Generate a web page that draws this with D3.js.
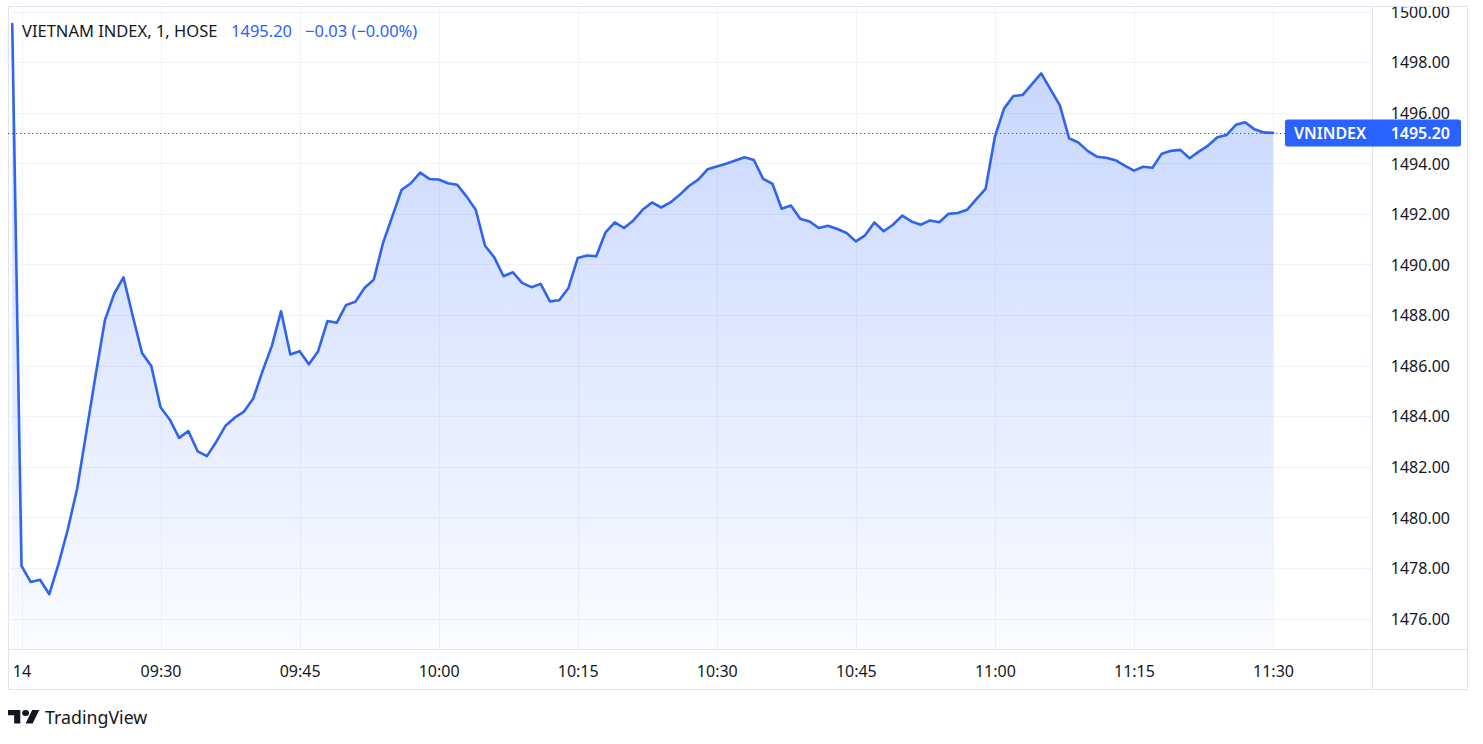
<!DOCTYPE html>
<html>
<head>
<meta charset="utf-8">
<script src="https://cdn.jsdelivr.net/npm/d3@7"></script>
<style>
  html, body { margin: 0; padding: 0; background: #ffffff; }
  svg { display: block; }
  text { font-family: "Noto Sans", "Open Sans", sans-serif; }
</style>
</head>
<body>
<svg id="chart" width="1483" height="744"></svg>
<script>
// ---------------- data ----------------
const sessionDate = "2025-08-14";
const times = [
  "09:14","09:15","09:16","09:17","09:18","09:19","09:20","09:21","09:22","09:23",
  "09:24","09:25","09:26","09:27","09:28","09:29","09:30","09:31","09:32","09:33",
  "09:34","09:35","09:36","09:37","09:38","09:39","09:40","09:41","09:42","09:43",
  "09:44","09:45","09:46","09:47","09:48","09:49","09:50","09:51","09:52","09:53",
  "09:54","09:55","09:56","09:57","09:58","09:59","10:00","10:01","10:02","10:03",
  "10:04","10:05","10:06","10:07","10:08","10:09","10:10","10:11","10:12","10:13",
  "10:14","10:15","10:16","10:17","10:18","10:19","10:20","10:21","10:22","10:23",
  "10:24","10:25","10:26","10:27","10:28","10:29","10:30","10:31","10:32","10:33",
  "10:34","10:35","10:36","10:37","10:38","10:39","10:40","10:41","10:42","10:43",
  "10:44","10:45","10:46","10:47","10:48","10:49","10:50","10:51","10:52","10:53",
  "10:54","10:55","10:56","10:57","10:58","10:59","11:00","11:01","11:02","11:03",
  "11:04","11:05","11:06","11:07","11:08","11:09","11:10","11:11","11:12","11:13",
  "11:14","11:15","11:16","11:17","11:18","11:19","11:20","11:21","11:22","11:23",
  "11:24","11:25","11:26","11:27","11:28","11:29","11:30"
];
const closeValues = [
  1499.5, 1478.08, 1477.44, 1477.53, 1476.96, 1478.16, 1479.53, 1481.13, 1483.38, 1485.63,
  1487.8, 1488.84, 1489.49, 1487.96, 1486.5, 1485.98, 1484.35, 1483.86, 1483.14, 1483.41,
  1482.61, 1482.42, 1482.98, 1483.62, 1483.94, 1484.18, 1484.7, 1485.78, 1486.77, 1488.15,
  1486.44, 1486.57, 1486.05, 1486.57, 1487.76, 1487.69, 1488.39, 1488.52, 1489.07, 1489.4,
  1490.85, 1491.9, 1492.95, 1493.21, 1493.63, 1493.38, 1493.36, 1493.21, 1493.15, 1492.69,
  1492.16, 1490.74, 1490.28, 1489.53, 1489.69, 1489.27, 1489.1, 1489.23, 1488.54, 1488.58,
  1489.07, 1490.25, 1490.35, 1490.32, 1491.27, 1491.66, 1491.44, 1491.74, 1492.16, 1492.45,
  1492.25, 1492.45, 1492.75, 1493.1, 1493.35, 1493.76, 1493.87, 1493.98, 1494.11, 1494.24,
  1494.13, 1493.38, 1493.19, 1492.2, 1492.33, 1491.81, 1491.7, 1491.44, 1491.53, 1491.4,
  1491.24, 1490.91, 1491.15, 1491.66, 1491.31, 1491.57, 1491.93, 1491.7, 1491.57, 1491.74,
  1491.67, 1492.0, 1492.03, 1492.16, 1492.58, 1492.99, 1495.05, 1496.17, 1496.66, 1496.7,
  1497.13, 1497.55, 1496.92, 1496.3, 1494.99, 1494.82, 1494.49, 1494.26, 1494.22, 1494.12,
  1493.91, 1493.71, 1493.86, 1493.82, 1494.38, 1494.49, 1494.53, 1494.2, 1494.46, 1494.7,
  1495.03, 1495.12, 1495.52, 1495.62, 1495.34, 1495.22, 1495.20
];
const priceTicks = [1476, 1478, 1480, 1482, 1484, 1486, 1488, 1490, 1492, 1494, 1496, 1498, 1500];
const timeTicks = ["09:15","09:30","09:45","10:00","10:15","10:30","10:45","11:00","11:15","11:30"];
const timeTickLabels = ["14","09:30","09:45","10:00","10:15","10:30","10:45","11:00","11:15","11:30"];
const symbolName = "VIETNAM INDEX, 1, HOSE";
const shortName = "VNINDEX";
const lastPrice = "1495.20";
const change = "\u22120.03 (\u22120.00%)";

// ---------------- setup ----------------
const parse = d3.timeParse("%Y-%m-%d %H:%M");
const data = times.map((t, i) => ({ t: parse(sessionDate + " " + t), v: closeValues[i] }));

const frame = { left: 8, top: 6, right: 1468, bottom: 690 };
const plot = { left: 8, top: 6, right: 1372, bottom: 649 };

const blue = "#2962FF";
const lineBlue = "#2f64ee";
const textColor = "#131722";
const gridColor = "#f0f3fa";
const borderColor = "#e0e3eb";

const x = d3.scaleTime()
  .domain([parse(sessionDate + " 09:15"), parse(sessionDate + " 11:30")])
  .range([21.5, 1273]);
const y = d3.scaleLinear().domain([1476, 1500]).range([618.5, 11.5]);

const svg = d3.select("#chart");
const defs = svg.append("defs");

defs.append("clipPath").attr("id", "plotClip").append("rect")
  .attr("x", plot.left).attr("y", plot.top)
  .attr("width", plot.right - plot.left).attr("height", plot.bottom - plot.top);
defs.append("clipPath").attr("id", "frameClip").append("rect")
  .attr("x", frame.left).attr("y", frame.top + 1)
  .attr("width", frame.right - frame.left).attr("height", frame.bottom - frame.top);

const grad = defs.append("linearGradient").attr("id", "areaGrad")
  .attr("gradientUnits", "userSpaceOnUse")
  .attr("x1", 0).attr("x2", 0).attr("y1", plot.top).attr("y2", plot.bottom);
grad.append("stop").attr("offset", "0%").attr("stop-color", blue).attr("stop-opacity", 0.28);
grad.append("stop").attr("offset", "100%").attr("stop-color", blue).attr("stop-opacity", 0.02);

// frame
svg.append("rect")
  .attr("x", frame.left + 0.5).attr("y", frame.top + 0.5)
  .attr("width", frame.right - frame.left - 1).attr("height", frame.bottom - frame.top - 1)
  .attr("fill", "#ffffff").attr("stroke", borderColor).attr("stroke-width", 1);

// grid
const grid = svg.append("g").attr("clip-path", "url(#plotClip)");
grid.selectAll("line.h").data(priceTicks).join("line")
  .attr("class", "h")
  .attr("x1", plot.left).attr("x2", plot.right)
  .attr("y1", d => Math.round(y(d)) + 0.5).attr("y2", d => Math.round(y(d)) + 0.5)
  .attr("stroke", gridColor).attr("stroke-width", 1);
grid.selectAll("line.v").data(timeTicks).join("line")
  .attr("class", "v")
  .attr("x1", d => Math.round(x(parse(sessionDate + " " + d))) + 0.5)
  .attr("x2", d => Math.round(x(parse(sessionDate + " " + d))) + 0.5)
  .attr("y1", plot.top).attr("y2", plot.bottom)
  .attr("stroke", gridColor).attr("stroke-width", 1);

// area + line
const plotG = svg.append("g").attr("clip-path", "url(#plotClip)");
const area = d3.area().x(d => x(d.t)).y0(plot.bottom).y1(d => y(d.v));
const line = d3.line().x(d => x(d.t)).y(d => y(d.v));
plotG.append("path").datum(data).attr("d", area).attr("fill", "url(#areaGrad)");
plotG.append("path").datum(data).attr("d", line)
  .attr("fill", "none").attr("stroke", lineBlue).attr("stroke-width", 2.6)
  .attr("stroke-linejoin", "round").attr("stroke-linecap", "round");

// last price dotted line
const lastY = y(closeValues[closeValues.length - 1]);
svg.append("line")
  .attr("x1", plot.left).attr("x2", 1285)
  .attr("y1", Math.round(lastY) + 0.5).attr("y2", Math.round(lastY) + 0.5)
  .attr("stroke", "#2a5bd7").attr("stroke-width", 1).attr("stroke-dasharray", "1.3,2.7");

// axis separators
svg.append("line").attr("x1", plot.right + 0.5).attr("x2", plot.right + 0.5)
  .attr("y1", frame.top).attr("y2", frame.bottom)
  .attr("stroke", borderColor);
svg.append("line").attr("x1", frame.left).attr("x2", frame.right)
  .attr("y1", plot.bottom + 0.5).attr("y2", plot.bottom + 0.5)
  .attr("stroke", borderColor);

// price axis
const yAxis = d3.axisRight(y).tickValues(priceTicks).tickFormat(d3.format(".2f")).tickSize(0).tickPadding(0);
const yAxisG = svg.append("g").attr("transform", `translate(${plot.right},0)`)
  .attr("clip-path", "url(#frameClip)")
  .call(yAxis);
yAxisG.select(".domain").remove();
yAxisG.selectAll("text")
  .attr("x", 1450 - plot.right).attr("dy", "0.36em")
  .attr("text-anchor", "end")
  .attr("fill", textColor).attr("font-size", 16)
  .attr("font-family", "\"Noto Sans\", sans-serif");

// time axis
const xAxis = d3.axisBottom(x)
  .tickValues(timeTicks.map(t => parse(sessionDate + " " + t)))
  .tickFormat((d, i) => timeTickLabels[i]).tickSize(0).tickPadding(0);
const xAxisG = svg.append("g").attr("transform", `translate(0,${plot.bottom})`).call(xAxis);
xAxisG.select(".domain").remove();
xAxisG.selectAll("text")
  .attr("y", 22).attr("dy", "0.36em")
  .attr("fill", textColor).attr("font-size", 16)
  .attr("font-family", "\"Noto Sans\", sans-serif");

// last price label
const labelG = svg.append("g");
labelG.append("rect")
  .attr("x", 1285).attr("y", lastY - 13.5).attr("width", 176).attr("height", 27)
  .attr("rx", 2.5).attr("fill", blue);
labelG.append("text").attr("x", 1294).attr("y", lastY).attr("dy", "0.36em")
  .attr("fill", "#ffffff").attr("font-size", 16).attr("font-weight", 600).text(shortName);
labelG.append("text").attr("x", 1450).attr("y", lastY).attr("dy", "0.36em")
  .attr("text-anchor", "end")
  .attr("fill", "#ffffff").attr("font-size", 16).attr("font-weight", 600).text(lastPrice);

// legend
const legend = svg.append("text").attr("x", 22).attr("y", 36.5).attr("font-size", 16.5);
legend.append("tspan").attr("fill", textColor).text(symbolName);
legend.append("tspan").attr("x", 231).attr("fill", blue).text(lastPrice);
legend.append("tspan").attr("x", 305).attr("fill", blue).text(change);

// TradingView logo
const logo = svg.append("g").attr("transform", "translate(8,707) scale(0.88,0.75)");
logo.append("path").attr("d", "M14 22H7V11H0V4h14v18zM28 22h-8l7.5-18h8L28 22z").attr("fill", textColor);
logo.append("circle").attr("cx", 20).attr("cy", 8).attr("r", 4).attr("fill", textColor);
svg.append("text").attr("x", 45).attr("y", 724).attr("font-size", 17.8)
  .attr("fill", textColor).text("TradingView");
</script>
</body>
</html>
